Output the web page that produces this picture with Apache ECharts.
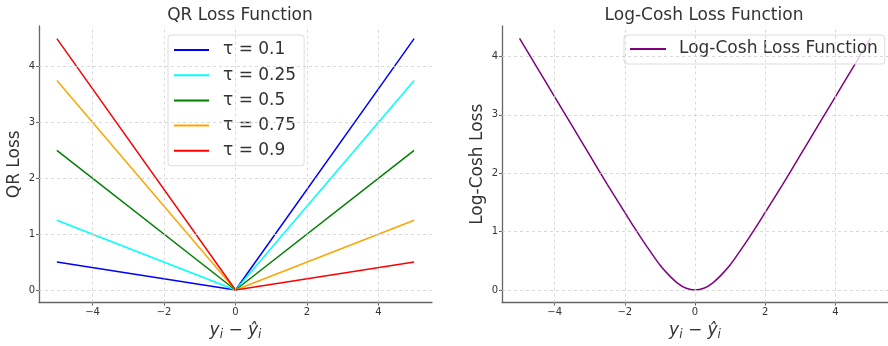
<!DOCTYPE html>
<html>
<head>
<meta charset="utf-8">
<script src="https://cdn.jsdelivr.net/npm/echarts@6/dist/echarts.min.js"></script>
<style>
  html, body { margin: 0; padding: 0; background: #fff; }
  #chart { width: 888px; height: 346px; }
</style>
</head>
<body>
<div id="chart"></div>
<script>
// residual values shared by both panels
var qrX = [-5, 0, 5];
var tauNames = ['τ = 0.1', 'τ = 0.25', 'τ = 0.5', 'τ = 0.75', 'τ = 0.9'];
var tauColors = ['#0000ff', '#00ffff', '#008000', '#ffa500', '#ff0000'];
var qr01 = [0.5, 0, 4.5];
var qr025 = [1.25, 0, 3.75];
var qr05 = [2.5, 0, 2.5];
var qr075 = [3.75, 0, 1.25];
var qr09 = [4.5, 0, 0.5];

var lcX = [-5, -4.5, -4, -3.5, -3, -2.5, -2, -1.75, -1.5, -1.25, -1, -0.75, -0.5, -0.25, 0,
           0.25, 0.5, 0.75, 1, 1.25, 1.5, 1.75, 2, 2.5, 3, 3.5, 4, 4.5, 5];
var lcY = [4.31, 3.81, 3.31, 2.81, 2.31, 1.81, 1.33, 1.09, 0.86, 0.64, 0.43, 0.26, 0.12, 0.03, 0,
           0.03, 0.12, 0.26, 0.43, 0.64, 0.86, 1.09, 1.33, 1.81, 2.31, 2.81, 3.31, 3.81, 4.31];

var xTicks = [-4, -2, 0, 2, 4];
var yTicks = [0, 1, 2, 3, 4];

var FONT = 'DejaVu Sans';
var qrSeries = [qr01, qr025, qr05, qr075, qr09];

function pairs(xs, ys) {
    return xs.map(function (x, i) { return [x, ys[i]]; });
}

var gridStyle = { color: '#d0d0d0', width: 0.8, type: [3, 3] };

// dashed grid lines drawn as markLines on an empty series
function gridLines(idx) {
    var d = [];
    xTicks.forEach(function (v) { d.push({ xAxis: v }); });
    yTicks.forEach(function (v) { d.push({ yAxis: v }); });
    return {
        type: 'line', xAxisIndex: idx, yAxisIndex: idx, data: [], z: 1, silent: true,
        markLine: { silent: true, symbol: 'none', label: { show: false }, lineStyle: gridStyle, data: d, animation: false }
    };
}

function xAxisOpt(idx, min, max) {
    return {
        type: 'value', gridIndex: idx, min: min, max: max,
        name: '{v|y}{s|i}{o| − }{v|ŷ}{s|i}',
        nameLocation: 'middle', nameGap: 13,
        nameTextStyle: {
            rich: {
                v: { fontFamily: FONT, fontSize: 17, fontStyle: 'italic', color: '#333' },
                s: { fontFamily: FONT, fontSize: 12, fontStyle: 'italic', color: '#333', padding: [8, 0, 0, 0] },
                o: { fontFamily: FONT, fontSize: 17, color: '#333' }
            }
        },
        axisLine: { onZero: false, lineStyle: { color: '#666', width: 1.3 } },
        axisTick: { show: true, length: 3, customValues: xTicks, lineStyle: { color: '#666' } },
        axisLabel: {
            customValues: xTicks, margin: 5, fontFamily: FONT, fontSize: 10, color: '#333',
            formatter: function (v) { return v < 0 ? '−' + (-v) : String(v); }
        },
        splitLine: { show: false }
    };
}

function yAxisOpt(idx, min, max, name, gap) {
    return {
        type: 'value', gridIndex: idx, min: min, max: max,
        name: name, nameLocation: 'middle', nameGap: gap,
        nameTextStyle: { fontFamily: FONT, fontSize: 17, color: '#333' },
        axisLine: { show: true, onZero: false, lineStyle: { color: '#666', width: 1.3 } },
        axisTick: { show: true, length: 3, customValues: yTicks, lineStyle: { color: '#666' } },
        axisLabel: { customValues: yTicks, margin: 4, fontFamily: FONT, fontSize: 10, color: '#333' },
        splitLine: { show: false }
    };
}

var series = [gridLines(0), gridLines(1)];
qrSeries.forEach(function (vals, i) {
    series.push({
        name: tauNames[i], type: 'line', xAxisIndex: 0, yAxisIndex: 0,
        data: pairs(qrX, vals), symbol: 'none', z: 3,
        lineStyle: { width: 1.5, color: tauColors[i] }, itemStyle: { color: tauColors[i] }
    });
});
series.push({
    name: 'Log-Cosh Loss Function', type: 'line', xAxisIndex: 1, yAxisIndex: 1,
    data: pairs(lcX, lcY), symbol: 'none', smooth: 0.3, z: 3,
    lineStyle: { width: 1.5, color: '#800080' }, itemStyle: { color: '#800080' }
});

var legendCommon = {
    orient: 'vertical', icon: 'rect', itemWidth: 35, itemHeight: 2, itemGap: 5.2,
    backgroundColor: 'rgba(255,255,255,0.8)', borderColor: '#dcdcdc', borderWidth: 1, borderRadius: 3,
    textStyle: { fontFamily: FONT, fontSize: 17, color: '#333', lineHeight: 20, padding: [0, 0, 0, 9] },
    selectedMode: false
};

var chart = echarts.init(document.getElementById('chart'), null, { renderer: 'canvas' });
chart.setOption({
    animation: false,
    backgroundColor: '#fff',
    title: [
        { text: 'QR Loss Function', left: 235, top: 2, textAlign: 'center',
          textStyle: { fontFamily: FONT, fontSize: 17, fontWeight: 'normal', color: '#333' } },
        { text: 'Log-Cosh Loss Function', left: 699, top: 2, textAlign: 'center',
          textStyle: { fontFamily: FONT, fontSize: 17, fontWeight: 'normal', color: '#333' } }
    ],
    grid: [
        { left: 39, top: 26, width: 393, height: 279 },
        { left: 502, top: 26, width: 393, height: 279 }
    ],
    legend: [
        Object.assign({}, legendCommon, { data: tauNames, left: 168, top: 35, padding: [5, 8, 5, 6] }),
        Object.assign({}, legendCommon, { data: ['Log-Cosh Loss Function'], left: 624, top: 35,
            itemWidth: 36, padding: [4, 7, 5, 6],
            textStyle: Object.assign({}, legendCommon.textStyle, { padding: [0, 0, 0, 8] }) })
    ],
    xAxis: [xAxisOpt(0, -5.5, 5.5), xAxisOpt(1, -5.5, 5.5)],
    yAxis: [yAxisOpt(0, -0.225, 4.725, 'QR Loss', 16), yAxisOpt(1, -0.215, 4.522, 'Log-Cosh Loss', 16)],
    series: series
});
</script>
</body>
</html>
